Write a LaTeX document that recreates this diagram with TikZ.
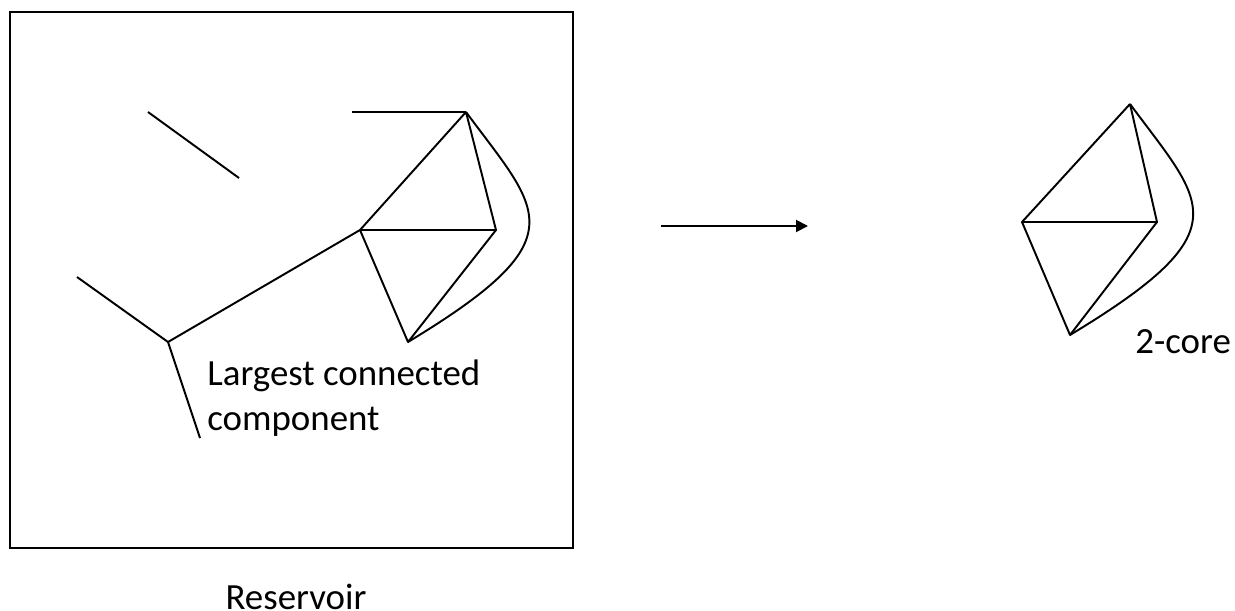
\documentclass[tikz,border=0pt]{standalone}
\usepackage{fontspec}
\setmainfont{Carlito}
\usetikzlibrary{arrows.meta,positioning}
\tikzset{
    graph sketch/.style = {>={Triangle[length=2.4mm, width=2.4mm]}},
    edge/.style         = {line width=1.1pt, line join=round},
    frame/.style        = {draw, line width=1.1pt},
    caption/.style      = {font=\fontsize{21}{25.5}\selectfont, inner sep=0pt},
    step arrow/.style   = {->, line width=1.1pt}
}

\begin{document}
\begin{tikzpicture}[graph sketch, x=0.2mm, y=-0.2mm]
\useasboundingbox (0,0) rectangle (1235,611);

% ================= Reservoir frame =================
\draw[frame] (10,12) rectangle (573,548);
\node[caption, anchor=base] (reservoir) at (296,609) {Reservoir};

% ================= Full graph =================
\coordinate (top)    at (466,112);
\coordinate (left)   at (360,230);
\coordinate (right)  at (496,230);
\coordinate (bottom) at (408,342);
\coordinate (hub)    at (168,342);
\coordinate (tail)   at (352,112);
\coordinate (leafa)  at (77,277);
\coordinate (leafb)  at (200,438);
\coordinate (isoa)   at (148,112);
\coordinate (isob)   at (239,178);

\draw[edge] (isoa) -- (isob);
\draw[edge] (tail) -- (top);
\draw[edge] (leafa) -- (hub) -- (leafb);
\draw[edge] (hub) -- (left);
\draw[edge] (top) -- (left) -- (right) -- (top);
\draw[edge] (left) -- (bottom) -- (right);
\draw[edge] (top) .. controls (540,212) and (580,238) .. (bottom);

\node[caption, anchor=base west] (lcc) at (207,385) {Largest connected};
\node[caption, anchor=base west] (lcc2) at (207,430) {component};

% ================= Pruning step =================
\coordinate (from) at (661,226);
\coordinate (to)   at (808,226);
\draw[step arrow] (from) -- (to);

% ================= 2-core =================
\coordinate (ctop)    at (1130,104);
\coordinate (cleft)   at (1022,222);
\coordinate (cright)  at (1157,222);
\coordinate (cbottom) at (1070,335);

\draw[edge] (ctop) -- (cleft) -- (cright) -- (ctop);
\draw[edge] (cleft) -- (cbottom) -- (cright);
\draw[edge] (ctop) .. controls (1204,204) and (1244,230) .. (cbottom);

\node[caption, anchor=base west] (core) at (1135,353) {2-core};

\end{tikzpicture}
\end{document}
